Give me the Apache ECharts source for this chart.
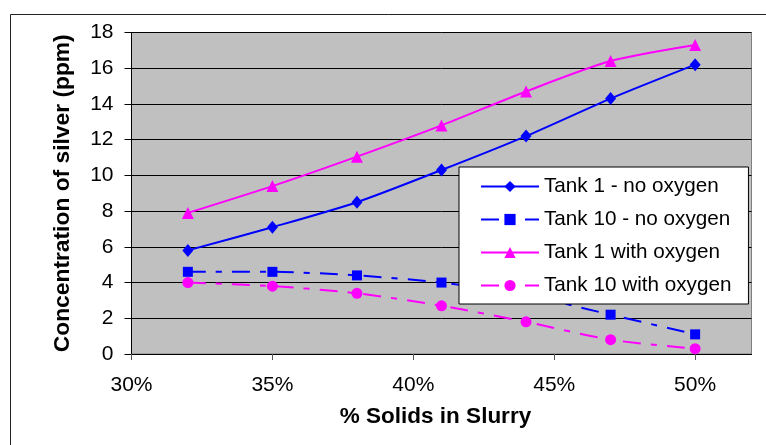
<!DOCTYPE html>
<html><head><meta charset="utf-8">
<script src="https://cdn.jsdelivr.net/npm/echarts@6/dist/echarts.min.js"></script>
<style>html,body{margin:0;padding:0;background:#fff}#c{width:766px;height:445px}</style>
</head><body><div id="c"></div>
<script>
const solids = [32, 35, 38, 41, 44, 47, 50];
const tank1NoOx = [5.8, 7.1, 8.5, 10.3, 12.2, 14.3, 16.2];
const tank10NoOx = [4.6, 4.6, 4.4, 4.0, 3.3, 2.2, 1.1];
const tank1Ox = [7.9, 9.4, 11.05, 12.8, 14.7, 16.4, 17.3];
const tank10Ox = [4.0, 3.8, 3.4, 2.7, 1.8, 0.8, 0.3];
const xTicks = [30, 35, 40, 45, 50];
const seriesNames = ['Tank 1 - no oxygen', 'Tank 10 - no oxygen', 'Tank 1 with oxygen', 'Tank 10 with oxygen'];

const FONT = '"Liberation Sans", Arial, sans-serif';
const pair = arr => solids.map((x, i) => [x, arr[i]]);
const dashDot = [18, 10, 6, 10];

function mk(name, data, color, symbol, size, dashed) {
  return {
    name, type: 'line', data: pair(data), smooth: 0.25,
    symbol, symbolSize: size, showSymbol: true,
    itemStyle: { color },
    lineStyle: { color, width: 2, type: dashed ? dashDot : 'solid' },
    emphasis: { disabled: true }, animation: false
  };
}

const chart = echarts.init(document.getElementById('c'), null, { renderer: 'canvas' });
chart.setOption({
  animation: false,
  backgroundColor: '#ffffff',
  graphic: [{
    type: 'rect', left: 8, top: 12, silent: true, z: -10,
    shape: { width: 800, height: 480 },
    style: { fill: 'none', stroke: '#222', lineWidth: 1 }
  }],
  grid: {
    left: 131.5, top: 32.5, right: 14.5, bottom: 91,
    show: true, backgroundColor: '#c0c0c0', borderColor: '#808080', borderWidth: 1
  },
  legend: {
    orient: 'vertical', left: 459, top: 167,
    backgroundColor: '#ffffff', borderColor: '#000', borderWidth: 1,
    padding: [9, 17, 8, 21], itemGap: 12, itemWidth: 58, itemHeight: 14,
    textStyle: { fontFamily: FONT, fontSize: 20.7, color: '#000' },
    data: seriesNames
  },
  xAxis: {
    type: 'value', min: 30, max: 52, interval: 5,
    name: '% Solids in Slurry', nameLocation: 'middle', nameGap: 51,
    nameTextStyle: { fontFamily: FONT, fontSize: 22.5, fontWeight: 'bold', color: '#000', padding: [0, 12, 0, 0] },
    axisLine: { show: true, onZero: false, lineStyle: { color: '#000', width: 1 } },
    axisTick: { show: true, length: 6, lineStyle: { color: '#555' }, customValues: xTicks },
    axisLabel: { customValues: xTicks, formatter: v => v + '%', fontFamily: FONT, fontSize: 21, color: '#000', margin: 21 },
    splitLine: { show: false }
  },
  yAxis: {
    type: 'value', min: 0, max: 18, interval: 2,
    name: 'Concentration of silver (ppm)', nameLocation: 'middle', nameGap: 57,
    nameTextStyle: { fontFamily: FONT, fontSize: 22.8, fontWeight: 'bold', color: '#000' },
    axisLine: { show: true, lineStyle: { color: '#000', width: 1 } },
    axisTick: { show: true, length: 7, lineStyle: { color: '#000' } },
    axisLabel: { fontFamily: FONT, fontSize: 21, color: '#000', margin: 18 },
    splitLine: { show: true, lineStyle: { color: '#000', width: 1 } }
  },
  series: [
    mk(seriesNames[0], tank1NoOx, '#0000ff', 'diamond', [11, 13], false),
    mk(seriesNames[1], tank10NoOx, '#0000ff', 'rect', 10, true),
    mk(seriesNames[2], tank1Ox, '#ff00ff', 'triangle', 12, false),
    mk(seriesNames[3], tank10Ox, '#ff00ff', 'circle', 11, true)
  ]
});
</script></body></html>
